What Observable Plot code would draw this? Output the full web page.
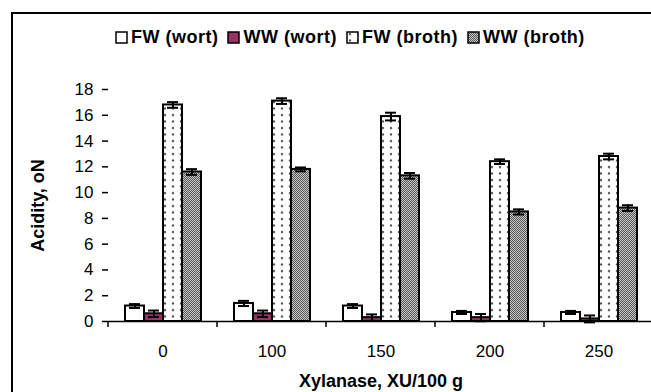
<!DOCTYPE html>
<html><head><meta charset="utf-8">
<script src="https://cdn.jsdelivr.net/npm/d3@7"></script>
<script src="https://cdn.jsdelivr.net/npm/@observablehq/plot@0.6"></script>
<style>
html,body{margin:0;padding:0;background:#fff;width:651px;height:392px;overflow:hidden;font-family:"Liberation Sans",Arial,sans-serif;}
#frame{position:absolute;left:11px;top:12px;width:700px;height:420px;border-top:2px solid #000;border-left:2px solid #000;box-sizing:border-box;}
#legend{position:absolute;left:115px;top:27px;display:flex;align-items:center;font-weight:bold;font-size:18px;letter-spacing:0.5px;white-space:nowrap;color:#000;}
#legend .item{display:flex;align-items:center;margin-right:9px;}
#legend svg{margin-right:3px;}
#chart{position:absolute;left:0;top:60px;}
#chart svg text{font-size:17px;}
#chart [aria-label$="axis label"] text, #chart [aria-label$="axis label"]{font-weight:bold;font-size:18px;}
</style></head>
<body>
<svg width="0" height="0" style="position:absolute">
<defs>
<pattern id="dots" width="8" height="6.5" patternUnits="userSpaceOnUse"><rect width="8" height="6.5" fill="#fff"/><circle cx="4" cy="3" r="1.1" fill="#444"/></pattern>
<pattern id="checker" width="2" height="2" patternUnits="userSpaceOnUse"><rect width="2" height="2" fill="#c8c8c8"/><rect width="1" height="1" fill="#555"/><rect x="1" y="1" width="1" height="1" fill="#555"/></pattern>
</defs></svg>
<div id="frame"></div>
<div id="legend"></div>
<div id="chart"></div>
<script>
// Data
const doses = ["0", "100", "150", "200", "250"];
const seriesNames = ["FW (wort)", "WW (wort)", "FW (broth)", "WW (broth)"];
const fwWort = [1.2, 1.4, 1.2, 0.7, 0.7];
const wwWort = [0.6, 0.6, 0.3, 0.3, 0.2];
const fwBroth = [16.8, 17.1, 15.9, 12.4, 12.8];
const wwBroth = [11.6, 11.8, 11.3, 8.5, 8.8];
const fwWortErr = [0.15, 0.2, 0.15, 0.12, 0.12];
const wwWortErr = [0.25, 0.25, 0.25, 0.28, 0.27];
const fwBrothErr = [0.22, 0.22, 0.3, 0.18, 0.22];
const wwBrothErr = [0.22, 0.15, 0.22, 0.2, 0.22];
const yTicks = [0, 2, 4, 6, 8, 10, 12, 14, 16, 18];
const fills = ["#ffffff", "#993366", "url(#dots)", "url(#checker)"];

const valueSets = [fwWort, wwWort, fwBroth, wwBroth];
const errSets = [fwWortErr, wwWortErr, fwBrothErr, wwBrothErr];
const rows = [];
doses.forEach((dose, i) => {
  seriesNames.forEach((s, j) => {
    rows.push({dose, series: s, value: valueSets[j][i], err: errSets[j][i]});
  });
});

// Legend
const legend = document.getElementById("legend");
seriesNames.forEach((s, j) => {
  const item = document.createElement("div");
  item.className = "item";
  item.innerHTML = `<svg width="13" height="13"><rect x="1" y="1" width="11" height="11" fill="${fills[j]}" stroke="#000" stroke-width="1.5"/></svg><span>${s}</span>`;
  legend.appendChild(item);
});

// Tick marks at the left boundary of each dose group (faceted custom mark)
class GroupTicks extends Plot.Mark {
  constructor(data, options = {}) {
    super(data, {}, options, {ariaLabel: "group ticks"});
  }
  render(index, scales, values, dimensions) {
    const g = d3.create("svg:g");
    const y0 = scales.y(0);
    g.append("line")
      .attr("x1", dimensions.marginLeft).attr("x2", dimensions.marginLeft)
      .attr("y1", y0).attr("y2", y0 + 6)
      .attr("stroke", "#000").attr("stroke-width", 1.5);
    return g.node();
  }
}

const chart = Plot.plot({
  width: 651,
  height: 332,
  marginTop: 29,
  marginBottom: 71,
  marginLeft: 107,
  marginRight: -3.5,
  style: {fontFamily: "'Liberation Sans', Arial, sans-serif", fontSize: "17px", color: "#000", background: "transparent"},
  fx: {domain: doses, padding: 0},
  x: {domain: seriesNames, paddingInner: 0, paddingOuter: 0.74, axis: null},
  y: {domain: [0, 18], axis: null},
  color: {domain: seriesNames, range: fills},
  marks: [
    Plot.axisY({ticks: yTicks, tickSize: 6, tickPadding: 9, strokeWidth: 1.5, line: true, label: "Acidity, oN", labelAnchor: "center", labelOffset: 77, labelArrow: false}),
    Plot.axisFx({anchor: "bottom", tickSize: 0, tickPadding: 23, label: "Xylanase, XU/100 g", labelAnchor: "center", labelOffset: 65, labelArrow: false}),
    Plot.barY(rows, {fx: "dose", x: "series", y: "value", fill: "series", stroke: "#000", strokeWidth: 2}),
    Plot.ruleX(rows, {fx: "dose", x: "series", y1: d => d.value - d.err, y2: d => d.value + d.err, stroke: "#000", strokeWidth: 2}),
    Plot.tickY(rows, {fx: "dose", x: "series", y: d => d.value - d.err, insetLeft: 4, insetRight: 4, stroke: "#000", strokeWidth: 2}),
    Plot.tickY(rows, {fx: "dose", x: "series", y: d => d.value + d.err, insetLeft: 4, insetRight: 4, stroke: "#000", strokeWidth: 2}),
    Plot.ruleY([0], {stroke: "#000", strokeWidth: 1.5}),
    new GroupTicks(doses, {fx: d => d})
  ]
});
document.getElementById("chart").appendChild(chart);
</script>
</body></html>
